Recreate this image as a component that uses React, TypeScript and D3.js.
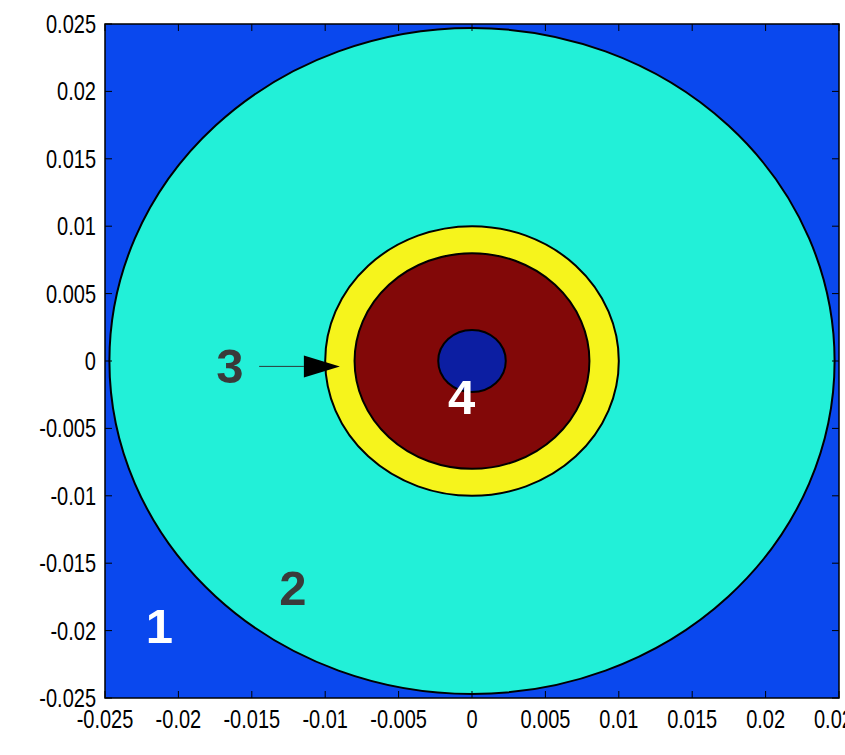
import * as d3 from 'd3';

// tick values and their printed labels (MATLAB style)
const TICKS = [-0.025, -0.02, -0.015, -0.01, -0.005, 0, 0.005, 0.01, 0.015, 0.02, 0.025];
const TICK_LABELS = ['-0.025', '-0.02', '-0.015', '-0.01', '-0.005', '0', '0.005', '0.01', '0.015', '0.02', '0.025'];

// concentric regions, outer to inner (radius in metres)
const REGION_RADII = [0.0247, 0.01, 0.008, 0.0023];
const REGION_COLORS = ['#22f0d8', '#f6f41c', '#820808', '#0c1ea2'];
const BACKGROUND = '#0a48ee';

// region labels
const LABELS = ['1', '2', '3', '4'];
const LABEL_X = [-0.0213, -0.0122, -0.0165, -0.0007];
const LABEL_Y = [-0.0209, -0.0181, -0.0016, -0.0039];
const LABEL_COLORS = ['#ffffff', '#3a3a3a', '#3a3a3a', '#ffffff'];

// arrow pointing at region 3
const ARROW_X = [-0.0145, -0.009];
const ARROW_Y = -0.0004;

const W = 845;
const H = 755;
const margin = {left: 105, right: 6, top: 24, bottom: 57};

export default function App() {
    const innerW = W - margin.left - margin.right;
    const innerH = H - margin.top - margin.bottom;

    const x = d3.scaleLinear().domain([-0.025, 0.025]).range([margin.left, margin.left + innerW]);
    const y = d3.scaleLinear().domain([-0.025, 0.025]).range([margin.top + innerH, margin.top]);

    const tickLen = 7;
    const font = '"Liberation Sans", Arial, sans-serif';
    const squeeze = 0.8;

    const headLen = 36;
    const headHalf = 11;
    const tipX = x(ARROW_X[1]);
    const ay = y(ARROW_Y);

    return (
        <svg width={W} height={H} style={{position: 'absolute', left: 0, top: 0, background: '#fff'}}>
            <defs>
                <clipPath id="plotClip">
                    <rect x={margin.left} y={margin.top} width={innerW} height={innerH} />
                </clipPath>
            </defs>

            <g clipPath="url(#plotClip)">
                <rect x={margin.left} y={margin.top} width={innerW} height={innerH} fill={BACKGROUND} />
                {REGION_RADII.map((r, i) => (
                    <ellipse key={i}
                        cx={x(0)} cy={y(0)}
                        rx={x(r) - x(0)} ry={y(0) - y(r)}
                        fill={REGION_COLORS[i]} stroke="#000" strokeWidth={2} />
                ))}
            </g>

            {/* arrow */}
            <line x1={x(ARROW_X[0])} y1={ay} x2={tipX - headLen} y2={ay} stroke="#2c3a38" strokeWidth={1} />
            <path d={`M${tipX},${ay} L${tipX - headLen},${ay - headHalf} L${tipX - headLen},${ay + headHalf} Z`} fill="#000" />

            {LABELS.map((t, i) => (
                <text key={t} x={x(LABEL_X[i])} y={y(LABEL_Y[i])} textAnchor="middle"
                    fontFamily="Arial, 'Liberation Sans', sans-serif" fontWeight="bold" fontSize={49}
                    fill={LABEL_COLORS[i]}>{t}</text>
            ))}

            {/* axes box */}
            <rect x={margin.left} y={margin.top} width={innerW} height={innerH} fill="none" stroke="#000" strokeWidth={1.5} />

            {TICKS.map((t) => (
                <g key={'tx' + t}>
                    <line x1={x(t)} x2={x(t)} y1={margin.top + innerH} y2={margin.top + innerH - tickLen} stroke="#000" />
                    <line x1={x(t)} x2={x(t)} y1={margin.top} y2={margin.top + tickLen} stroke="#000" />
                    <line y1={y(t)} y2={y(t)} x1={margin.left} x2={margin.left + tickLen} stroke="#000" />
                    <line y1={y(t)} y2={y(t)} x1={margin.left + innerW} x2={margin.left + innerW - tickLen} stroke="#000" />
                </g>
            ))}

            {TICKS.map((t, i) => (
                <text key={'lx' + t}
                    transform={`translate(${x(t)},${margin.top + innerH + 30}) scale(${squeeze},1)`}
                    textAnchor="middle" fontFamily={font} fontSize={25} fill="#000">{TICK_LABELS[i]}</text>
            ))}
            {TICKS.map((t, i) => (
                <text key={'ly' + t}
                    transform={`translate(${margin.left - 9},${y(t) + 9}) scale(${squeeze},1)`}
                    textAnchor="end" fontFamily={font} fontSize={25} fill="#000">{TICK_LABELS[i]}</text>
            ))}
        </svg>
    );
}
